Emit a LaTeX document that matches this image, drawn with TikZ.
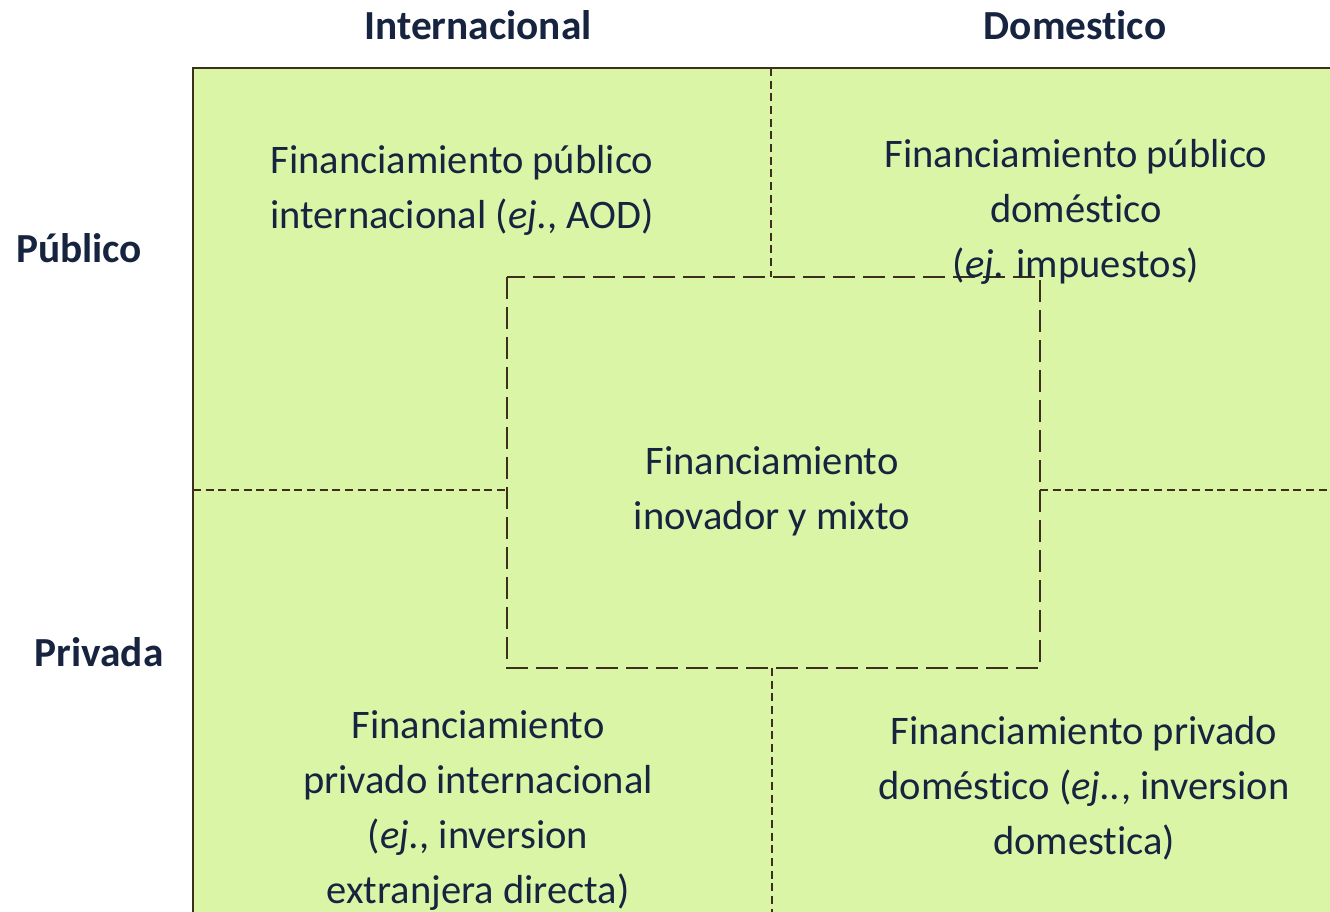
\documentclass[tikz,border=0pt]{standalone}
\usepackage{fontspec}
\setmainfont{Carlito}[RawFeature=-liga]
\definecolor{bgfill}{RGB}{218,245,166}
\definecolor{edge}{RGB}{62,46,30}
\definecolor{ink}{RGB}{22,36,64}
\begin{document}
\begin{tikzpicture}[x=0.75pt,y=-0.75pt,
  body/.style={text=ink,align=center,font=\fontsize{30.4}{41.25}\selectfont,inner sep=0pt},
  head/.style={text=ink,font=\fontsize{31}{36}\selectfont\bfseries,inner sep=0pt},
  thin/.style={draw=edge,line width=0.8pt,dash pattern=on 6pt off 3.5pt},
  thick/.style={draw=edge,line width=2pt,dash pattern=on 16.5pt off 6pt}]
\useasboundingbox (0,0) rectangle (1330,911);
\fill[bgfill] (193,68) rectangle (1332,913);
\draw[edge,line width=2.2pt] (193,913) -- (193,68) -- (1332,68);
% center box
\coordinate (c1) at (507,277);
\coordinate (c2) at (1040,668);
\draw[thick] (c1) rectangle (c2);
% thin dashed lines
\coordinate (vt) at (771,68);
\coordinate (vtb) at (771,277);
\coordinate (vb) at (772,668);
\coordinate (vbb) at (772,913);
\coordinate (hl) at (193,490);
\coordinate (hlr) at (507,490);
\coordinate (hr) at (1040,490);
\coordinate (hrr) at (1332,490);
\draw[thin] (vt) -- (vtb);
\draw[thin] (vb) -- (vbb);
\draw[thin] (hl) -- (hlr);
\draw[thin] (hr) -- (hrr);
% headers
\node[head] (hint) at (478,25) {Internacional};
\node[head] (hdom) at (1075,25) {Domestico};
\node[head] (hpub) at (79,248) {Público};
\node[head] (hpri) at (99,652) {Privada};
% texts
\node[body] (tl) at (462,190) {Financiamiento público\\internacional (\textit{ej.}, AOD)};
\node[body] (tr) at (1076,212) {Financiamiento público\\doméstico\\(\textit{ej.} impuestos)};
\node[body] (cc) at (772,491) {Financiamiento\\inovador y mixto};
\node[body] (bl) at (478,811) {Financiamiento\\privado internacional\\(\textit{ej.}, inversion\\extranjera directa)};
\node[body] (br) at (1084,788) {Financiamiento privado\\doméstico (\textit{ej..}, inversion\\domestica)};
\end{tikzpicture}
\end{document}
